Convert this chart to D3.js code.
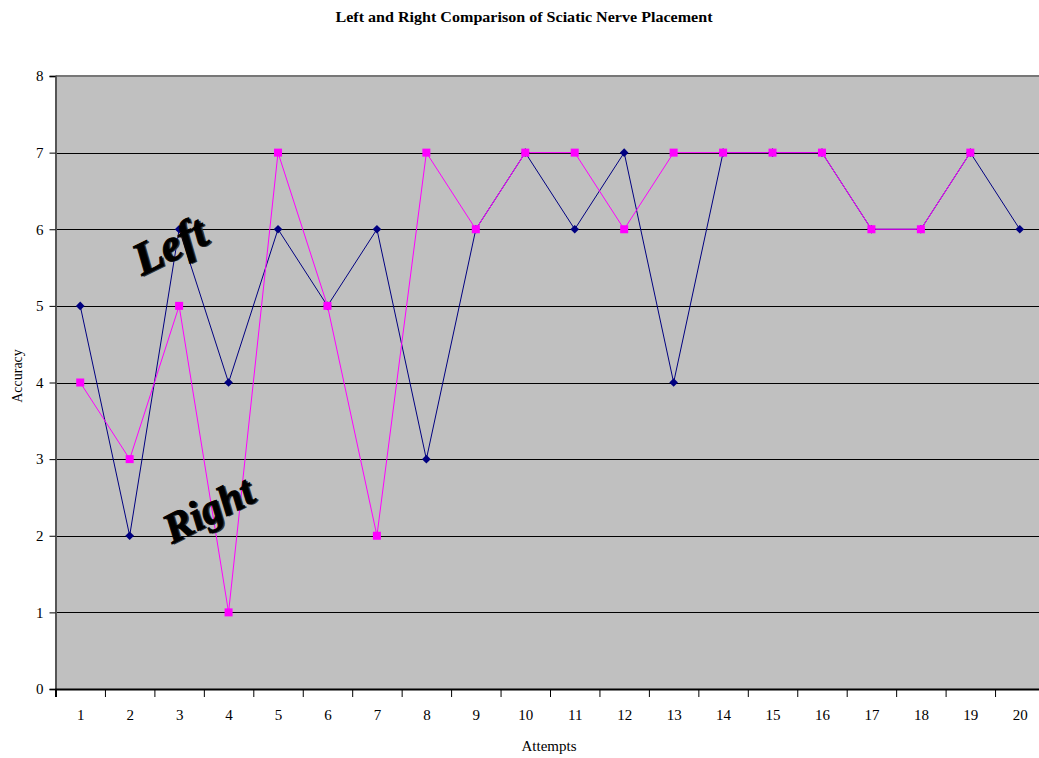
<!DOCTYPE html>
<html>
<head>
<meta charset="utf-8">
<script src="https://cdn.jsdelivr.net/npm/d3@7"></script>
<style>
    body { margin: 0; background: #ffffff; overflow: hidden; }
    text { font-family: "Liberation Serif", "Times New Roman", serif; }
</style>
</head>
<body>
<svg id="chart" width="1039" height="758"></svg>
<script>
const attempts = d3.range(1, 21);
const leftValues = [5, 2, 6, 4, 6, 5, 6, 3, 6, 7, 6, 7, 4, 7, 7, 7, 6, 6, 7, 6];
const rightValues = [4, 3, 5, 1, 7, 5, 2, 7, 6, 7, 7, 6, 7, 7, 7, 7, 6, 6, 7];
const yTicks = [0, 1, 2, 3, 4, 5, 6, 7, 8];

const svg = d3.select("svg#chart");

const plot = { left: 55.5, top: 76, right: 1044.5, bottom: 689 };

const x = d3.scaleLinear().domain([0.5, 20.5]).range([plot.left, plot.right]);
const y = d3.scaleLinear().domain([0, 8]).range([plot.bottom, plot.top]);

// plot background
svg.append("rect")
    .attr("x", plot.left).attr("y", plot.top)
    .attr("width", plot.right - plot.left).attr("height", plot.bottom - plot.top)
    .attr("fill", "#c0c0c0");

// gridlines
svg.append("g").selectAll("line")
    .data(yTicks.filter(t => t > 0 && t < 8))
    .enter().append("line")
    .attr("x1", plot.left).attr("x2", plot.right)
    .attr("y1", t => Math.round(y(t)) + 0.5).attr("y2", t => Math.round(y(t)) + 0.5)
    .attr("stroke", "#000").attr("stroke-width", 1);

// top border
svg.append("line")
    .attr("x1", plot.left).attr("x2", plot.right)
    .attr("y1", plot.top).attr("y2", plot.top)
    .attr("stroke", "#777").attr("stroke-width", 2);

// y axis
const yAxis = svg.append("g")
    .attr("transform", `translate(${plot.left},0)`)
    .call(d3.axisLeft(y).tickValues(yTicks).tickSize(6).tickPadding(6).tickFormat(d3.format("d")));
yAxis.select(".domain").attr("stroke", "#555").attr("stroke-width", 2);
yAxis.selectAll(".tick line").attr("stroke", "#000");
yAxis.selectAll("text").attr("font-size", 15).attr("fill", "#000")
    .attr("font-family", "Liberation Serif");

// x axis: tick marks between categories
const xTicksAxis = svg.append("g")
    .attr("transform", `translate(0,${plot.bottom})`)
    .call(d3.axisBottom(x).tickValues(d3.range(0.5, 21, 1)).tickSize(8).tickFormat(""));
xTicksAxis.select(".domain").attr("stroke", "#000").attr("stroke-width", 2);
xTicksAxis.selectAll(".tick line").attr("stroke", "#000");

// x axis labels at category centres
const xLabels = svg.append("g")
    .attr("transform", `translate(0,${plot.bottom})`)
    .call(d3.axisBottom(x).tickValues(attempts).tickSize(0).tickPadding(20).tickFormat(d3.format("d")));
xLabels.select(".domain").remove();
xLabels.selectAll("text").attr("font-size", 15).attr("fill", "#000")
    .attr("font-family", "Liberation Serif");

// titles
svg.append("text")
    .attr("x", 524).attr("y", 22)
    .attr("text-anchor", "middle")
    .attr("font-size", 15.5).attr("font-weight", "bold")
    .attr("textLength", 377).attr("lengthAdjust", "spacingAndGlyphs")
    .text("Left and Right Comparison of Sciatic Nerve Placement");

svg.append("text")
    .attr("x", 549).attr("y", 751)
    .attr("text-anchor", "middle")
    .attr("font-size", 15)
    .text("Attempts");

svg.append("text")
    .attr("transform", "translate(22,376) rotate(-90)")
    .attr("text-anchor", "middle")
    .attr("font-size", 14)
    .text("Accuracy");

// series
const line = d3.line()
    .x((d, i) => x(i + 1))
    .y(d => y(d));

svg.append("path")
    .datum(leftValues)
    .attr("d", line)
    .attr("fill", "none")
    .attr("stroke", "#000080")
    .attr("stroke-width", 1);

svg.append("path")
    .datum(rightValues)
    .attr("d", line)
    .attr("fill", "none")
    .attr("stroke", "#ff00ff")
    .attr("stroke-width", 1);

svg.append("g").selectAll("path")
    .data(leftValues)
    .enter().append("path")
    .attr("transform", (d, i) => `translate(${x(i + 1)},${y(d)})`)
    .attr("d", d3.symbol().type(d3.symbolDiamond2).size(48))
    .attr("fill", "#000080");

svg.append("g").selectAll("rect")
    .data(rightValues)
    .enter().append("rect")
    .attr("x", (d, i) => x(i + 1) - 4)
    .attr("y", d => y(d) - 4)
    .attr("width", 8).attr("height", 8)
    .attr("fill", "#ff00ff");

// word-art style labels
const wordArt = (label, tx, ty, angle, size) => {
    const g = svg.append("g").attr("transform", `translate(${tx},${ty}) rotate(${angle})`);
    g.append("text")
        .attr("x", 1.5).attr("y", 1.5)
        .attr("font-size", size).attr("font-weight", "bold").attr("font-style", "italic")
        .attr("fill", "#333")
        .text(label);
    g.append("text")
        .attr("font-size", size).attr("font-weight", "bold").attr("font-style", "italic")
        .attr("fill", "#000").attr("stroke", "#000").attr("stroke-width", 1)
        .text(label);
};

wordArt("Left", 142, 276, -26, 46);
wordArt("Right", 172, 544, -27, 42);
</script>
</body>
</html>
